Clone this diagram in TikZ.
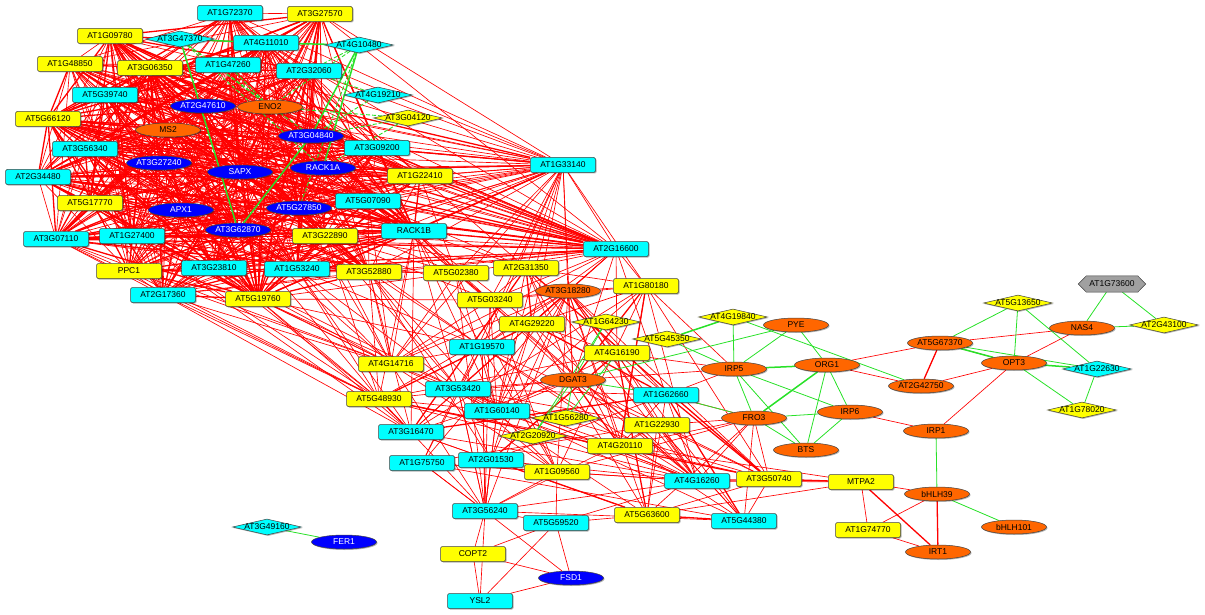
\documentclass[tikz,border=0pt]{standalone}
\usepackage{fontspec}
\setmainfont{Liberation Sans}
\usetikzlibrary{shapes.geometric,shadows}
\pgfdeclarelayer{edges}
\pgfdeclarelayer{back}
\pgfsetlayers{edges,back,main}
\definecolor{genecyan}{RGB}{0,255,255}
\definecolor{geneyellow}{RGB}{255,255,0}
\definecolor{geneorange}{RGB}{255,102,0}
\definecolor{geneblue}{RGB}{0,0,255}
\definecolor{genegray}{RGB}{160,160,160}
\definecolor{linkred}{RGB}{255,0,0}
\definecolor{linkgreen}{RGB}{40,225,40}
\newcommand\genefont{\fontsize{8.5}{9}\selectfont}
\tikzset{
  gene/.style={draw=black!75,line width=.5pt,minimum width=65pt,minimum height=15pt,inner sep=0pt,
    drop shadow={shadow xshift=1pt,shadow yshift=-1pt,fill=black,opacity=.3}},
  cyanbox/.style={gene,rectangle,rounded corners=1.5pt,fill=genecyan},
  yellowbox/.style={gene,rectangle,rounded corners=1.5pt,fill=geneyellow},
  orangeell/.style={gene,ellipse,minimum height=14pt,fill=geneorange},
  blueell/.style={gene,ellipse,minimum height=14pt,fill=geneblue,text=white},
  cyandia/.style={gene,diamond,minimum width=69pt,minimum height=16pt,fill=genecyan,label=center:#1},
  yellowdia/.style={gene,diamond,minimum width=69pt,minimum height=16pt,fill=geneyellow,label=center:#1},
  hexnode/.style={rectangle,minimum width=67pt,minimum height=16pt,inner sep=0pt},
  redlink/.style={draw=linkred,line width=.65pt},
  redthick/.style={draw=linkred,line width=1.3pt},
  greenlink/.style={draw=linkgreen,line width=.8pt},
  greenthick/.style={draw=linkgreen,line width=1.5pt},
  greendash/.style={draw=linkgreen,line width=.9pt,dash pattern=on 4pt off 2pt},
}
\def\clusterA{AT1G72370,AT3G27570,AT1G09780,AT4G11010,AT1G48850,AT3G06350,AT1G47260,AT2G32060,AT5G39740,AT2G47610,ENO2,AT5G66120,MS2,AT3G04840,AT3G56340,AT3G09200,AT3G27240,SAPX,RACK1A,AT1G22410,AT2G34480,AT5G17770,APX1,AT5G27850,AT5G07090,AT3G62870,AT3G07110,AT1G27400,AT3G22890,RACK1B,PPC1,AT3G23810,AT1G53240,AT3G52880,AT2G17360,AT5G19760,AT1G33140,AT2G16600}
\def\clusterB{AT5G02380,AT2G31350,AT3G18280,AT1G80180,AT5G03240,AT4G29220,AT1G19570,AT4G16190,AT4G14716,AT5G48930,AT3G53420,DGAT3,AT1G60140,AT3G16470,AT1G75750,AT2G01530,AT1G09560,AT1G62660,AT1G22930,AT4G20110,AT4G16260,AT3G50740,AT5G44380,AT5G63600,AT3G56240}
\begin{document}
\begin{tikzpicture}[x=1pt,y=-1pt,every node/.style={font=\genefont}]
  \useasboundingbox (0,0) rectangle (1205,615);
  % upper cluster
  \node[cyanbox] (AT1G72370) at (230,13) {AT1G72370};
  \node[yellowbox] (AT3G27570) at (320,14) {AT3G27570};
  \node[yellowbox] (AT1G09780) at (110,36) {AT1G09780};
  \node[cyandia=AT3G47370] (AT3G47370) at (180,39) {};
  \node[cyanbox] (AT4G11010) at (266,43) {AT4G11010};
  \node[cyandia=AT4G10480] (AT4G10480) at (359,45) {};
  \node[yellowbox] (AT1G48850) at (70,64) {AT1G48850};
  \node[yellowbox] (AT3G06350) at (150,68) {AT3G06350};
  \node[cyanbox] (AT1G47260) at (228,65) {AT1G47260};
  \node[cyanbox] (AT2G32060) at (309,71) {AT2G32060};
  \node[cyanbox] (AT5G39740) at (105,95) {AT5G39740};
  \node[cyandia=AT4G19210] (AT4G19210) at (378,95) {};
  \node[blueell] (AT2G47610) at (203,106) {AT2G47610};
  \node[orangeell] (ENO2) at (270,107) {ENO2};
  \node[yellowbox] (AT5G66120) at (48,119) {AT5G66120};
  \node[yellowdia=AT3G04120] (AT3G04120) at (408,118) {};
  \node[orangeell] (MS2) at (168,130) {MS2};
  \node[blueell] (AT3G04840) at (311,136) {AT3G04840};
  \node[cyanbox] (AT3G56340) at (85,149) {AT3G56340};
  \node[cyanbox] (AT3G09200) at (377,148) {AT3G09200};
  \node[blueell] (AT3G27240) at (159,163) {AT3G27240};
  \node[blueell] (SAPX) at (240,172) {SAPX};
  \node[blueell] (RACK1A) at (323,168) {RACK1A};
  \node[yellowbox] (AT1G22410) at (420,176) {AT1G22410};
  \node[cyanbox] (AT1G33140) at (563,165) {AT1G33140};
  \node[cyanbox] (AT2G34480) at (38,177) {AT2G34480};
  \node[yellowbox] (AT5G17770) at (90,203) {AT5G17770};
  \node[blueell] (APX1) at (181,210) {APX1};
  \node[blueell] (AT5G27850) at (299,208) {AT5G27850};
  \node[cyanbox] (AT5G07090) at (368,201) {AT5G07090};
  \node[blueell] (AT3G62870) at (238,230) {AT3G62870};
  \node[cyanbox] (AT3G07110) at (56,239) {AT3G07110};
  \node[cyanbox] (AT1G27400) at (132,236) {AT1G27400};
  \node[yellowbox] (AT3G22890) at (325,236) {AT3G22890};
  \node[cyanbox] (RACK1B) at (414,231) {RACK1B};
  \node[cyanbox] (AT2G16600) at (616,249) {AT2G16600};
  \node[yellowbox] (PPC1) at (129,271) {PPC1};
  \node[cyanbox] (AT3G23810) at (214,268) {AT3G23810};
  \node[cyanbox] (AT1G53240) at (297,269) {AT1G53240};
  \node[yellowbox] (AT3G52880) at (369,272) {AT3G52880};
  \node[cyanbox] (AT2G17360) at (163,295) {AT2G17360};
  \node[yellowbox] (AT5G19760) at (258,299) {AT5G19760};
  % middle cluster
  \node[yellowbox] (AT5G02380) at (456,273) {AT5G02380};
  \node[yellowbox] (AT2G31350) at (526,268) {AT2G31350};
  \node[orangeell] (AT3G18280) at (568,291) {AT3G18280};
  \node[yellowbox] (AT1G80180) at (646,286) {AT1G80180};
  \node[yellowbox] (AT5G03240) at (490,300) {AT5G03240};
  \node[yellowbox] (AT4G29220) at (532,324) {AT4G29220};
  \node[yellowdia=AT1G64230] (AT1G64230) at (606,322) {};
  \node[yellowdia=AT5G45350] (AT5G45350) at (667,339) {};
  \node[cyanbox] (AT1G19570) at (482,347) {AT1G19570};
  \node[yellowbox] (AT4G16190) at (617,353) {AT4G16190};
  \node[yellowbox] (AT4G14716) at (391,364) {AT4G14716};
  \node[yellowbox] (AT5G48930) at (379,399) {AT5G48930};
  \node[cyanbox] (AT3G53420) at (458,389) {AT3G53420};
  \node[orangeell] (DGAT3) at (573,380) {DGAT3};
  \node[cyanbox] (AT1G60140) at (497,411) {AT1G60140};
  \node[yellowdia=AT1G56280] (AT1G56280) at (566,418) {};
  \node[cyanbox] (AT3G16470) at (411,432) {AT3G16470};
  \node[yellowdia=AT2G20920] (AT2G20920) at (533,436) {};
  \node[cyanbox] (AT1G75750) at (422,463) {AT1G75750};
  \node[cyanbox] (AT2G01530) at (491,460) {AT2G01530};
  \node[yellowbox] (AT1G09560) at (557,472) {AT1G09560};
  \node[cyanbox] (AT1G62660) at (666,395) {AT1G62660};
  \node[yellowbox] (AT1G22930) at (657,425) {AT1G22930};
  \node[yellowbox] (AT4G20110) at (620,446) {AT4G20110};
  \node[cyanbox] (AT4G16260) at (697,481) {AT4G16260};
  \node[yellowbox] (AT3G50740) at (769,479) {AT3G50740};
  \node[cyanbox] (AT5G44380) at (744,521) {AT5G44380};
  \node[yellowbox] (AT5G63600) at (647,515) {AT5G63600};
  \node[cyanbox] (AT3G56240) at (485,511) {AT3G56240};
  \node[cyanbox] (AT5G59520) at (556,523) {AT5G59520};
  \node[yellowbox] (COPT2) at (473,554) {COPT2};
  \node[blueell] (FSD1) at (571,578) {FSD1};
  \node[cyanbox] (YSL2) at (480,601) {YSL2};
  \node[cyandia=AT3G49160] (AT3G49160) at (267,527) {};
  \node[blueell] (FER1) at (344,542) {FER1};
  % iron genes
  \node[yellowdia=AT4G19840] (AT4G19840) at (733,317) {};
  \node[orangeell] (PYE) at (796,325) {PYE};
  \node[orangeell] (IRP5) at (734,369) {IRP5};
  \node[orangeell] (ORG1) at (827,365) {ORG1};
  \node[orangeell] (FRO3) at (754,418) {FRO3};
  \node[orangeell] (IRP6) at (850,412) {IRP6};
  \node[orangeell] (BTS) at (806,450) {BTS};
  \node[yellowbox] (MTPA2) at (861,482) {MTPA2};
  \node[yellowbox] (AT1G74770) at (868,530) {AT1G74770};
  \node[orangeell] (bHLH39) at (937,494) {bHLH39};
  \node[orangeell] (bHLH101) at (1014,527) {bHLH101};
  \node[orangeell] (IRT1) at (938,552) {IRT1};
  \node[orangeell] (IRP1) at (936,431) {IRP1};
  \node[orangeell] (AT5G67370) at (940,343) {AT5G67370};
  \node[orangeell] (AT2G42750) at (921,386) {AT2G42750};
  \node[orangeell] (OPT3) at (1014,363) {OPT3};
  \node[orangeell] (NAS4) at (1082,328) {NAS4};
  \node[yellowdia=AT5G13650] (AT5G13650) at (1018,303) {};
  \node[cyandia=AT1G22630] (AT1G22630) at (1097,369) {};
  \node[yellowdia=AT1G78020] (AT1G78020) at (1082,410) {};
  \node[yellowdia=AT2G43100] (AT2G43100) at (1164,325) {};
  \node[hexnode] (AT1G73600) at (1112,284) {AT1G73600};
  \begin{pgfonlayer}{back}
    \draw[fill=genegray,draw=black!75,line width=.5pt] (AT1G73600.west) -- ([xshift=8pt]AT1G73600.north west)
      -- ([xshift=-8pt]AT1G73600.north east) -- (AT1G73600.east) -- ([xshift=-8pt]AT1G73600.south east)
      -- ([xshift=8pt]AT1G73600.south west) -- cycle;
  \end{pgfonlayer}
  \begin{pgfonlayer}{edges}
    % dense upper cluster
    \foreach \a [count=\i] in \clusterA {
      \foreach \b [count=\j] in \clusterA {
        \ifnum\j>\i
          \pgfmathtruncatemacro\edgeflag{mod(\i+2*\j,7)}
          \pgfmathtruncatemacro\edgewide{mod(\i*\j,6)}
          \ifnum\edgeflag>0
            \ifnum\edgewide=0 \draw[redthick] (\a) -- (\b); \else \draw[redlink] (\a) -- (\b); \fi
          \fi
        \fi
      }
    }
    % middle cluster
    \foreach \a [count=\i] in \clusterB {
      \foreach \b [count=\j] in \clusterB {
        \ifnum\j>\i
          \pgfmathtruncatemacro\edgeflag{mod(3*\i+5*\j+\i*\j,8)}
          \ifnum\edgeflag<3
            \ifnum\edgeflag=0 \draw[redthick] (\a) -- (\b); \else \draw[redlink] (\a) -- (\b); \fi
          \fi
        \fi
      }
    }
    % links between the two clusters
    \foreach \a/\bs in {
      AT1G33140/{AT5G02380,AT2G31350,AT3G18280,AT5G03240,AT4G29220,AT1G19570,AT4G14716,AT3G53420,DGAT3,AT1G60140,AT1G80180},
      AT2G16600/{AT5G02380,AT2G31350,AT3G18280,AT5G03240,AT4G29220,AT1G80180,AT4G16190,AT1G19570,DGAT3,AT3G53420,AT4G14716,AT1G62660},
      RACK1B/{AT5G02380,AT5G03240,AT4G14716,AT1G19570,AT3G53420,AT5G48930,AT1G60140,AT3G16470,DGAT3,AT2G31350,AT4G29220},
      AT3G52880/{AT5G02380,AT5G48930,AT4G14716,AT3G53420,AT1G19570,AT3G16470,AT2G01530,AT1G60140},
      AT5G19760/{AT5G48930,AT4G14716,AT3G53420,AT3G16470,AT1G19570,AT5G02380,AT5G03240},
      AT1G53240/{AT5G48930,AT4G14716,AT3G16470,AT5G02380,AT1G19570,AT3G53420},
      AT2G17360/{AT5G48930,AT4G14716,AT3G16470},
      PPC1/{AT5G48930,AT4G14716},
      AT3G23810/{AT5G48930,AT4G14716,AT3G53420},
      AT3G07110/{AT5G48930,AT4G14716},
      AT1G27400/{AT5G48930,AT4G14716,AT3G16470},
      AT3G22890/{AT5G02380,AT4G14716,AT5G48930,AT1G19570,AT3G53420,AT2G31350,AT5G03240},
      AT5G07090/{AT5G02380,AT2G31350,AT5G03240,AT4G14716},
      AT1G22410/{AT5G02380,AT2G31350},
      AT3G62870/{AT4G14716,AT5G48930},
      AT5G27850/{AT4G14716,AT5G02380}}
      \foreach \b in \bs \draw[redlink] (\a) -- (\b);
    % lower and right red links
    \foreach \a/\b in {AT3G56240/AT5G59520,AT3G56240/YSL2,AT3G56240/FSD1,AT3G56240/COPT2,AT5G59520/COPT2,
      AT5G59520/YSL2,AT5G59520/FSD1,COPT2/YSL2,COPT2/FSD1,YSL2/FSD1,AT5G59520/AT5G63600,AT5G59520/AT1G09560,
      AT5G59520/AT4G16260,AT3G56240/AT2G01530,AT3G56240/AT3G16470,AT3G56240/AT1G60140,AT3G56240/AT1G19570,
      AT3G56240/AT3G53420,AT3G56240/AT1G75750,
      IRP5/AT1G62660,IRP5/AT1G80180,IRP5/AT4G16190,IRP5/DGAT3,AT1G62660/FRO3,FRO3/AT1G22930,FRO3/AT4G20110,
      FRO3/AT4G16260,FRO3/AT3G50740,FRO3/AT5G44380,FRO3/AT5G63600,FRO3/AT1G09560,ORG1/AT5G67370,
      ORG1/AT2G42750,IRP6/IRP1,AT5G67370/NAS4,AT5G67370/OPT3,AT2G42750/OPT3,OPT3/NAS4,OPT3/IRP1,
      MTPA2/AT4G16260,MTPA2/AT5G63600,MTPA2/AT4G20110,MTPA2/bHLH39,MTPA2/AT1G74770,bHLH39/AT1G74770,
      AT1G74770/IRT1,AT3G50740/AT5G44380,AT1G22930/AT5G44380,AT1G80180/AT4G20110,
      AT1G80180/AT1G09560,AT1G62660/AT5G63600}
      \draw[redlink] (\a) -- (\b);
    \foreach \a/\b in {AT5G67370/AT2G42750,MTPA2/IRT1,AT4G16260/AT3G50740,AT5G63600/AT5G44380,
      AT1G62660/AT5G44380,MTPA2/AT3G50740,bHLH39/IRT1}
      \draw[redthick] (\a) -- (\b);
    % green links
    \foreach \a/\b in {AT4G10480/AT2G32060,AT4G10480/ENO2,AT4G10480/AT5G27850,AT3G47370/ENO2,
      AT3G47370/AT3G04840,AT3G47370/RACK1A,AT4G19210/AT2G32060,AT4G19210/AT3G04840,AT3G04120/AT3G04840,
      AT3G04120/ENO2,AT3G04120/RACK1A,AT1G47260/ENO2}
      \draw[greendash] (\a) -- (\b);
    \foreach \a/\b in {AT4G19840/IRP5,AT4G19840/AT2G42750,PYE/IRP5,PYE/ORG1,DGAT3/PYE,AT5G45350/IRP5,
      IRP5/FRO3,IRP5/BTS,IRP5/IRP6,ORG1/BTS,ORG1/IRP6,FRO3/IRP6,FRO3/BTS,IRP6/BTS,AT1G62660/FRO3,
      DGAT3/AT1G62660,AT1G64230/DGAT3,AT1G64230/AT2G20920,AT4G16190/AT1G56280,DGAT3/AT1G56280,
      DGAT3/AT2G20920,AT5G67370/AT5G13650,AT5G13650/OPT3,AT5G13650/AT1G22630,AT5G67370/AT1G22630,
      OPT3/AT1G78020,AT1G22630/AT1G78020,AT1G73600/NAS4,AT1G73600/AT2G43100,NAS4/AT2G43100,
      IRP1/bHLH39,bHLH39/bHLH101,AT3G49160/FER1}
      \draw[greenlink] (\a) -- (\b);
    \foreach \a/\b in {AT3G47370/AT4G11010,AT4G11010/AT4G10480,AT4G10480/AT3G04840,AT4G10480/RACK1A,
      AT3G47370/AT3G62870,AT3G04840/AT3G62870,AT4G19840/AT5G45350,IRP5/ORG1,ORG1/FRO3,OPT3/AT1G22630,
      AT5G67370/OPT3}
      \draw[greenthick] (\a) -- (\b);
  \end{pgfonlayer}
\end{tikzpicture}
\end{document}
